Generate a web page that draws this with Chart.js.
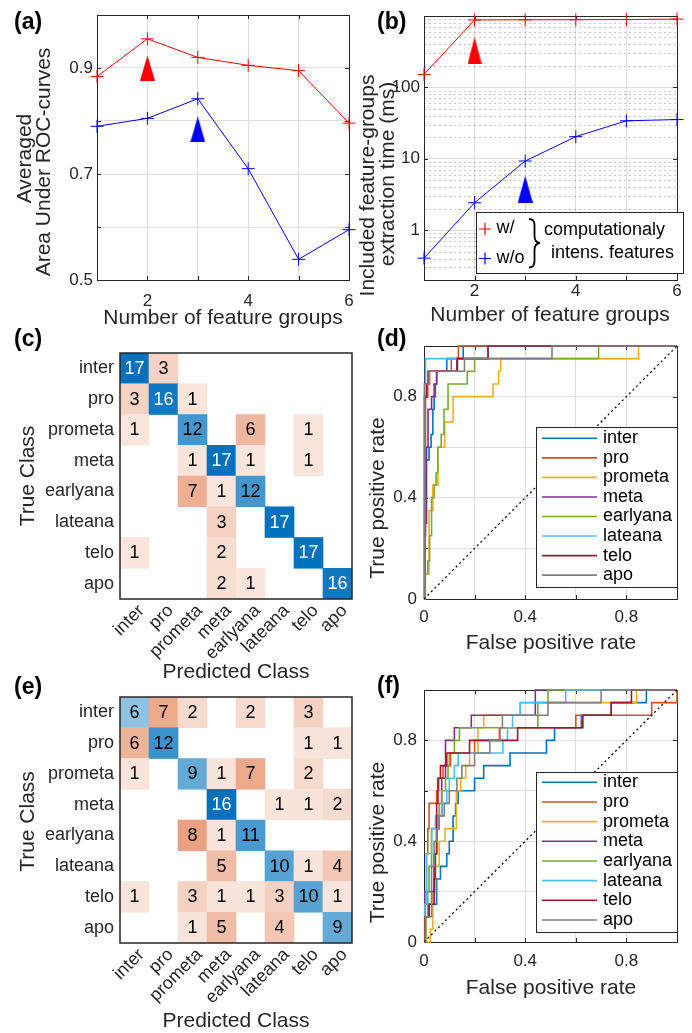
<!DOCTYPE html>
<html>
<head>
<meta charset="utf-8">
<script src="https://cdn.jsdelivr.net/npm/chart.js@4.4.0/dist/chart.umd.min.js"></script>
<style>
  html, body { margin: 0; padding: 0; background: #fff; }
  #wrap { position: relative; width: 692px; height: 1033px; }
  #wrap canvas { position: absolute; left: 0; top: 0; }
</style>
</head>
<body>
<div id="wrap">
  <canvas id="cA" width="692" height="1033"></canvas>
  <canvas id="cB" width="692" height="1033"></canvas>
  <canvas id="cC" width="692" height="1033"></canvas>
  <canvas id="cD" width="692" height="1033"></canvas>
  <canvas id="cE" width="692" height="1033"></canvas>
  <canvas id="cF" width="692" height="1033"></canvas>
</div>
<script>
const W = 692
const H = 1033
const FONT = '"Liberation Sans", Arial, sans-serif'
const INK = '#262626'
const GRID = '#dedede'

// (a) averaged AUC vs number of feature groups
const groups = [1, 2, 3, 4, 5, 6]
const aucWith = [0.884, 0.955, 0.92, 0.905, 0.895, 0.796]
const aucWithout = [0.79, 0.805, 0.842, 0.71, 0.539, 0.595]
const pickA = [[2, 0.9], [3, 0.784]]

// (b) extraction time in ms (log scale)
const timeWith = [152, 880, 885, 888, 892, 905]
const timeWithout = [0.405, 2.42, 9.3, 20.4, 34, 35.4]
const pickB = [[2, 330], [3, 3.75]]

// (c) / (e) confusion matrices, rows = true class, cols = predicted
const classes = ['inter', 'pro', 'prometa', 'meta', 'earlyana', 'lateana', 'telo', 'apo']
const confC = [
  [17, 3, 0, 0, 0, 0, 0, 0],
  [3, 16, 1, 0, 0, 0, 0, 0],
  [1, 0, 12, 0, 6, 0, 1, 0],
  [0, 0, 1, 17, 1, 0, 1, 0],
  [0, 0, 7, 1, 12, 0, 0, 0],
  [0, 0, 0, 3, 0, 17, 0, 0],
  [1, 0, 0, 2, 0, 0, 17, 0],
  [0, 0, 0, 2, 1, 0, 0, 16]
]
const confE = [
  [6, 7, 2, 0, 2, 0, 3, 0],
  [6, 12, 0, 0, 0, 0, 1, 1],
  [1, 0, 9, 1, 7, 0, 2, 0],
  [0, 0, 0, 16, 0, 1, 1, 2],
  [0, 0, 8, 1, 11, 0, 0, 0],
  [0, 0, 0, 5, 0, 10, 1, 4],
  [1, 0, 3, 1, 1, 3, 10, 1],
  [0, 0, 1, 5, 0, 4, 0, 9]
]
const classColors = ['#0072BD', '#D95319', '#EDB120', '#7E2F8E', '#77AC30', '#4DBEEE', '#A2142F', '#808080']

// (d) ROC curves, [fpr, tpr] where tpr steps up
const dInter = [[0, 0], [0.004, 0.55], [0.02, 0.6], [0.028, 0.65], [0.035, 0.75], [0.04, 0.8], [0.045, 0.85], [0.05, 0.9], [0.09, 0.95], [0.155, 1], [1, 1]]
const dPro = [[0, 0], [0.003, 0.5], [0.006, 0.8], [0.015, 0.85], [0.022, 0.9], [0.108, 0.95], [0.136, 1], [1, 1]]
const dPrometa = [[0, 0], [0.005, 0.1], [0.02, 0.35], [0.035, 0.45], [0.055, 0.6], [0.082, 0.7], [0.115, 0.8], [0.273, 0.85], [0.295, 0.9], [0.303, 0.95], [0.848, 1], [1, 1]]
const dMeta = [[0, 0], [0.003, 0.25], [0.006, 0.3], [0.01, 0.6], [0.016, 0.75], [0.03, 0.8], [0.04, 0.85], [0.05, 0.9], [0.13, 0.95], [0.253, 1], [1, 1]]
const dEarlyana = [[0, 0], [0.005, 0.1], [0.015, 0.15], [0.022, 0.25], [0.03, 0.4], [0.04, 0.45], [0.048, 0.5], [0.055, 0.6], [0.068, 0.65], [0.079, 0.75], [0.095, 0.85], [0.171, 0.9], [0.2, 0.95], [0.69, 1], [1, 1]]
const dLateana = [[0, 0], [0.002, 0.85], [0.006, 0.95], [0.253, 1], [1, 1]]
const dTelo = [[0, 0], [0.002, 0.8], [0.01, 0.85], [0.016, 0.9], [0.132, 0.95], [0.253, 1], [1, 1]]
const dApo = [[0, 0], [0.002, 0.85], [0.02, 0.9], [0.16, 0.95], [0.506, 1], [1, 1]]

// (f) ROC curves
const fInter = [[0, 0], [0.005, 0.1], [0.02, 0.15], [0.05, 0.25], [0.065, 0.3], [0.09, 0.35], [0.1, 0.4], [0.115, 0.5], [0.125, 0.55], [0.135, 0.6], [0.2, 0.65], [0.236, 0.7], [0.34, 0.75], [0.484, 0.8], [0.516, 0.85], [0.622, 0.9], [0.74, 0.95], [0.879, 1], [1, 1]]
const fPro = [[0, 0], [0.005, 0.15], [0.01, 0.35], [0.015, 0.45], [0.02, 0.55], [0.05, 0.6], [0.058, 0.65], [0.075, 0.7], [0.105, 0.75], [0.2, 0.8], [0.298, 0.85], [0.6, 0.9], [0.9, 0.95], [1, 1]]
const fPrometa = [[0, 0], [0.025, 0.05], [0.035, 0.2], [0.045, 0.3], [0.06, 0.4], [0.083, 0.45], [0.128, 0.6], [0.145, 0.65], [0.165, 0.7], [0.18, 0.75], [0.213, 0.85], [0.236, 0.9], [0.38, 0.95], [0.84, 1], [1, 1]]
const fMeta = [[0, 0], [0.003, 0.2], [0.04, 0.25], [0.045, 0.35], [0.05, 0.45], [0.06, 0.5], [0.07, 0.65], [0.085, 0.8], [0.12, 0.85], [0.187, 0.9], [0.44, 1], [1, 1]]
const fEarlyana = [[0, 0], [0.008, 0.1], [0.015, 0.2], [0.02, 0.3], [0.03, 0.45], [0.05, 0.5], [0.06, 0.55], [0.07, 0.6], [0.085, 0.65], [0.095, 0.7], [0.1, 0.75], [0.12, 0.8], [0.14, 0.85], [0.45, 0.95], [0.49, 1], [1, 1]]
const fLateana = [[0, 0], [0.003, 0.15], [0.01, 0.35], [0.03, 0.45], [0.045, 0.5], [0.07, 0.55], [0.09, 0.6], [0.1, 0.65], [0.12, 0.7], [0.135, 0.75], [0.312, 0.8], [0.33, 0.85], [0.35, 0.9], [0.38, 0.95], [0.56, 1], [1, 1]]
const fTelo = [[0, 0], [0.003, 0.1], [0.02, 0.15], [0.04, 0.35], [0.05, 0.55], [0.055, 0.65], [0.065, 0.7], [0.09, 0.75], [0.18, 0.8], [0.37, 0.85], [0.628, 0.9], [0.74, 0.95], [0.82, 1], [1, 1]]
const fApo = [[0, 0], [0.005, 0.1], [0.03, 0.3], [0.04, 0.4], [0.05, 0.45], [0.06, 0.5], [0.08, 0.55], [0.1, 0.6], [0.13, 0.65], [0.15, 0.7], [0.2, 0.75], [0.26, 0.8], [0.3, 0.85], [0.31, 0.9], [0.49, 0.95], [0.7, 1], [1, 1]]

const rocD = [dInter, dPro, dPrometa, dMeta, dEarlyana, dLateana, dTelo, dApo]
const rocF = [fInter, fPro, fPrometa, fMeta, fEarlyana, fLateana, fTelo, fApo]

// ---------- helpers ----------
function pad (area, yW, xH) {
  return { left: area[0] - yW, top: area[1], right: W - area[2], bottom: H - area[3] - xH }
}

function txt (ctx, s, x, y, o = {}) {
  ctx.save()
  ctx.font = (o.bold ? 'bold ' : '') + (o.size || 21) + 'px ' + FONT
  ctx.fillStyle = o.color || INK
  ctx.textAlign = o.align || 'center'
  ctx.textBaseline = 'middle'
  ctx.translate(x, y)
  if (o.rot) ctx.rotate(o.rot)
  ctx.fillText(s, 0, 0)
  ctx.restore()
}

function tri (color, w, h) {
  const c = document.createElement('canvas')
  c.width = w
  c.height = h
  const g = c.getContext('2d')
  g.fillStyle = color
  g.beginPath()
  g.moveTo(w / 2, 0)
  g.lineTo(w, h)
  g.lineTo(0, h)
  g.closePath()
  g.fill()
  return c
}

const isPow10 = v => [0.1, 1, 10, 100, 1000].some(p => Math.abs(v - p) < 1e-9)

// axes box with small inward ticks, drawn under the data
function frame (inner) {
  return {
    id: 'frame',
    beforeDatasetsDraw (chart) {
      const { ctx, chartArea: a, scales } = chart
      ctx.save()
      ctx.strokeStyle = INK
      ctx.lineWidth = 1
      ctx.strokeRect(Math.round(a.left) + 0.5, Math.round(a.top) + 0.5, Math.round(a.right - a.left), Math.round(a.bottom - a.top))
      if (inner) {
        ctx.beginPath()
        scales.x.ticks.forEach(t => {
          const px = Math.round(scales.x.getPixelForValue(t.value)) + 0.5
          ctx.moveTo(px, a.bottom); ctx.lineTo(px, a.bottom - 4)
          ctx.moveTo(px, a.top); ctx.lineTo(px, a.top + 4)
        })
        scales.y.ticks.forEach(t => {
          if (scales.y.type === 'logarithmic' && !isPow10(t.value)) return
          const py = Math.round(scales.y.getPixelForValue(t.value)) + 0.5
          ctx.moveTo(a.left, py); ctx.lineTo(a.left + 4, py)
          ctx.moveTo(a.right, py); ctx.lineTo(a.right - 4, py)
        })
        ctx.stroke()
      }
      ctx.restore()
    }
  }
}

function labels (items) {
  return {
    id: 'labels',
    afterDraw (chart) {
      items.forEach(it => txt(chart.ctx, it[0], it[1], it[2], it[3]))
    }
  }
}

function rocLegend (box, y0, dy) {
  return {
    id: 'rocLegend',
    afterDatasetsDraw (chart) {
      const ctx = chart.ctx
      ctx.save()
      ctx.fillStyle = '#fff'
      ctx.fillRect(box[0], box[1], box[2], box[3])
      ctx.strokeStyle = INK
      ctx.lineWidth = 1
      ctx.strokeRect(box[0] + 0.5, box[1] + 0.5, box[2], box[3])
      classes.forEach((c, i) => {
        const y = y0 + dy * i
        ctx.strokeStyle = classColors[i]
        ctx.lineWidth = 1.6
        ctx.beginPath()
        ctx.moveTo(box[0] + 6, y)
        ctx.lineTo(box[0] + 61, y)
        ctx.stroke()
        txt(ctx, c, box[0] + 67, y, { size: 18, align: 'left', color: '#000' })
      })
      ctx.restore()
    }
  }
}

const tickFont = { family: FONT, size: 17 }
const base = (padding, plugins) => ({
  responsive: false,
  animation: false,
  events: [],
  layout: { padding },
  plugins: Object.assign({ legend: { display: false }, tooltip: { enabled: false } }, plugins || {})
})

// ---------- (a) ----------
const areaA = [97, 15, 349, 280]
new Chart(document.getElementById('cA'), {
  type: 'line',
  data: {
    datasets: [
      { data: groups.map((g, i) => ({ x: g, y: aucWith[i] })), borderColor: '#ff0000', pointBorderColor: '#ff0000', borderWidth: 1, pointStyle: 'cross', pointRadius: 6.5, pointBorderWidth: 1, clip: false },
      { data: groups.map((g, i) => ({ x: g, y: aucWithout[i] })), borderColor: '#0000ff', pointBorderColor: '#0000ff', borderWidth: 1, pointStyle: 'cross', pointRadius: 6.5, pointBorderWidth: 1, clip: false },
      { data: [{ x: pickA[0][0], y: pickA[0][1] }], showLine: false, pointStyle: tri('#ff0000', 15, 25), pointRadius: 8 },
      { data: [{ x: pickA[1][0], y: pickA[1][1] }], showLine: false, pointStyle: tri('#0000ff', 15, 26), pointRadius: 8 }
    ]
  },
  options: Object.assign(base(pad(areaA, 60, 40)), {
    scales: {
      x: {
        type: 'linear', min: 1, max: 6,
        afterFit: s => { s.height = 40 },
        grid: { color: GRID, drawTicks: false },
        border: { display: false },
        ticks: { stepSize: 1, autoSkip: false, padding: 11.5, font: tickFont, color: INK, maxRotation: 0, callback: v => (v % 2 === 0 ? String(v) : '') }
      },
      y: {
        min: 0.5, max: 1,
        afterFit: s => { s.width = 60 },
        grid: { color: GRID, drawTicks: false },
        border: { display: false },
        ticks: { stepSize: 0.1, autoSkip: false, padding: 4, font: tickFont, color: INK, callback: v => (Math.round(v * 10) % 2 === 1 ? v.toFixed(1) : '') }
      }
    }
  }),
  plugins: [frame(true), labels([
    ['(a)', 14, 23, { bold: true, size: 23, align: 'left', color: '#000' }],
    ['Number of feature groups', 223, 318.5],
    ['Averaged', 25, 158.5, { rot: -Math.PI / 2 }],
    ['Area Under ROC-curves', 44, 162, { rot: -Math.PI / 2 }]
  ])]
})

// ---------- (b) ----------
const areaB = [424, 16, 677, 280]
const legendB = {
  id: 'legendB',
  afterDatasetsDraw (chart) {
    const ctx = chart.ctx
    ctx.save()
    ctx.fillStyle = '#fff'
    ctx.fillRect(476, 212, 207, 61)
    ctx.strokeStyle = INK
    ctx.lineWidth = 1
    ctx.strokeRect(476.5, 212.5, 207, 61)
    ctx.lineWidth = 1.2
    const plus = (x, y, c) => {
      ctx.strokeStyle = c
      ctx.beginPath()
      ctx.moveTo(x - 6, y); ctx.lineTo(x + 6, y)
      ctx.moveTo(x, y - 6); ctx.lineTo(x, y + 6)
      ctx.stroke()
    }
    plus(485, 229, '#ff0000')
    plus(485, 258.5, '#0000ff')
    txt(ctx, 'w/', 496.5, 228, { size: 18, align: 'left', color: '#000' })
    txt(ctx, 'w/o', 496.5, 258, { size: 18, align: 'left', color: '#000' })
    // curly brace
    ctx.strokeStyle = '#000'
    ctx.lineWidth = 1.8
    ctx.beginPath()
    ctx.moveTo(529, 219)
    ctx.quadraticCurveTo(534.5, 219, 534.5, 225)
    ctx.lineTo(534.5, 236)
    ctx.quadraticCurveTo(534.5, 242.5, 540, 243)
    ctx.quadraticCurveTo(534.5, 243.5, 534.5, 250)
    ctx.lineTo(534.5, 261)
    ctx.quadraticCurveTo(534.5, 267.5, 529, 267.5)
    ctx.stroke()
    txt(ctx, 'computationaly', 544, 230.5, { size: 18, align: 'left', color: '#000' })
    txt(ctx, 'intens. features', 551, 253.5, { size: 18, align: 'left', color: '#000' })
    ctx.restore()
  }
}
const minorGrid = {
  id: 'minorGrid',
  beforeDatasetsDraw (chart) {
    const { ctx, chartArea: a, scales } = chart
    ctx.save()
    ctx.strokeStyle = 'rgba(0,0,0,0.22)'
    ctx.lineWidth = 1
    ctx.setLineDash([2, 3])
    ctx.beginPath()
    scales.y.ticks.forEach(t => {
      if (isPow10(t.value)) return
      const py = Math.round(scales.y.getPixelForValue(t.value)) + 0.5
      ctx.moveTo(a.left, py)
      ctx.lineTo(a.right, py)
    })
    ctx.stroke()
    ctx.restore()
  }
}
new Chart(document.getElementById('cB'), {
  type: 'line',
  data: {
    datasets: [
      { data: groups.map((g, i) => ({ x: g, y: timeWith[i] })), borderColor: '#ff0000', pointBorderColor: '#ff0000', borderWidth: 1, pointStyle: 'cross', pointRadius: 6.5, pointBorderWidth: 1, clip: false },
      { data: groups.map((g, i) => ({ x: g, y: timeWithout[i] })), borderColor: '#0000ff', pointBorderColor: '#0000ff', borderWidth: 1, pointStyle: 'cross', pointRadius: 6.5, pointBorderWidth: 1, clip: false },
      { data: [{ x: pickB[0][0], y: pickB[0][1] }], showLine: false, pointStyle: tri('#ff0000', 14, 27), pointRadius: 8 },
      { data: [{ x: pickB[1][0], y: pickB[1][1] }], showLine: false, pointStyle: tri('#0000ff', 15, 27), pointRadius: 8 }
    ]
  },
  options: Object.assign(base(pad(areaB, 60, 40)), {
    scales: {
      x: {
        type: 'linear', min: 1, max: 6,
        afterFit: s => { s.height = 40 },
        grid: { color: GRID, drawTicks: false },
        border: { display: false },
        ticks: { stepSize: 1, autoSkip: false, padding: 1.5, font: tickFont, color: INK, maxRotation: 0, callback: v => (v % 2 === 0 ? String(v) : '') }
      },
      y: {
        type: 'logarithmic', min: 0.2, max: 1000,
        afterFit: s => { s.width = 60 },
        afterBuildTicks: s => {
          const t = []
          for (let e = -1; e <= 2; e++) {
            for (let m = 1; m <= 9; m++) {
              const v = Math.round(m * Math.pow(10, e) * 10) / 10
              if (v >= 0.2) t.push({ value: v, major: m === 1 })
            }
          }
          t.push({ value: 1000, major: true })
          s.ticks = t
        },
        grid: { color: c => (c.tick && isPow10(c.tick.value) ? GRID : 'rgba(0,0,0,0)'), drawTicks: false },
        border: { display: false },
        ticks: { autoSkip: false, padding: 4, font: tickFont, color: INK, callback: v => ([1, 10, 100].includes(v) ? String(v) : '') }
      }
    }
  }),
  plugins: [minorGrid, frame(true), legendB, labels([
    ['(b)', 377, 22.5, { bold: true, size: 23, align: 'left', color: '#000' }],
    ['Number of feature groups', 550, 315],
    ['Included feature-groups', 368.5, 185.5, { rot: -Math.PI / 2 }],
    ['extraction time (ms)', 388, 174, { rot: -Math.PI / 2 }]
  ])]
})

// ---------- (c) and (e): confusion matrices ----------
function cells (m) {
  const out = []
  m.forEach((row, r) => row.forEach((v, c) => {
    if (v > 0) out.push({ x: classes[c], y: [r - 0.5, r + 0.5], v, d: r === c })
  }))
  return out
}
function cellColor (p, max) {
  const a = 0.1 + 0.9 * p.v / max
  const rgb = p.d ? [0, 114, 189] : [217, 83, 25]
  return 'rgb(' + rgb.map(c => Math.round(255 + (c - 255) * a)).join(',') + ')'
}
const confDeco = {
  id: 'confDeco',
  afterDatasetsDraw (chart) {
    const { ctx, chartArea: a, scales } = chart
    const ds = chart.data.datasets[0]
    const max = Math.max(...ds.data.map(p => p.v))
    chart.getDatasetMeta(0).data.forEach((el, i) => {
      const p = ds.data[i]
      const { x, y, base } = el.getProps(['x', 'y', 'base'], true)
      txt(ctx, String(p.v), x, (y + base) / 2 + 0.5, { size: 18, color: p.v / max > 0.8 ? '#fff' : '#000' })
    })
    ctx.save()
    ctx.strokeStyle = INK
    ctx.lineWidth = 1.5
    ctx.strokeRect(a.left, a.top, a.right - a.left, a.bottom - a.top)
    ctx.restore()
    classes.forEach((c, i) => {
      txt(ctx, c, scales.x.getPixelForValue(i) + 7, a.bottom + 9, { size: 18, align: 'right', rot: -Math.PI / 4 })
    })
  }
}
function confChart (id, m, area, tag, titleY, predY, trueY) {
  return new Chart(document.getElementById(id), {
    type: 'bar',
    data: {
      labels: classes,
      datasets: [{
        data: cells(m),
        backgroundColor: c => cellColor(c.raw, Math.max(...m.flat())),
        borderWidth: 0,
        barPercentage: 1,
        categoryPercentage: 1
      }]
    },
    options: Object.assign(base(pad(area, 110, 40)), {
      scales: {
        x: {
          type: 'category', offset: true,
          afterFit: s => { s.height = 40 },
          grid: { display: false, drawTicks: false },
          border: { display: false },
          ticks: { display: false }
        },
        y: {
          type: 'linear', min: -0.5, max: 7.5, reverse: true,
          afterFit: s => { s.width = 110 },
          afterBuildTicks: s => { s.ticks = classes.map((c, i) => ({ value: i })) },
          grid: { display: false, drawTicks: false },
          border: { display: false },
          ticks: { autoSkip: false, padding: 6, font: { family: FONT, size: 18 }, color: INK, callback: v => classes[v] }
        }
      }
    }),
    plugins: [confDeco, labels([
      [tag, 14, titleY, { bold: true, size: 23, align: 'left', color: '#000' }],
      ['True Class', 28.5, trueY, { rot: -Math.PI / 2 }],
      ['Predicted Class', 236, predY]
    ])]
  })
}
confChart('cC', confC, [120, 353, 352, 599], '(c)', 340, 672.5, 476)
confChart('cE', confE, [120, 697, 352, 943], '(e)', 688, 1021.5, 821.5)

// ---------- (d) and (f): ROC curves ----------
const rateTick = v => (Math.round(v * 10) % 4 === 0 ? (v === 0 ? '0' : v.toFixed(1)) : '')
function rocChart (id, curves, area, tag, tagY, xTitleY, yTitleY, legBox, legY0, legDy, xPad) {
  const sets = curves.map((pts, i) => ({
    data: pts.map(p => ({ x: p[0], y: p[1] })),
    borderColor: classColors[i],
    borderWidth: 1.6,
    stepped: 'before',
    pointRadius: 0,
    clip: false,
    order: 10 - i
  }))
  sets.push({ data: [{ x: 0, y: 0 }, { x: 1, y: 1 }], borderColor: '#000', borderWidth: 1.3, borderDash: [2, 3], pointRadius: 0, order: 0 })
  return new Chart(document.getElementById(id), {
    type: 'line',
    data: { datasets: sets },
    options: Object.assign(base(pad(area, 60, 40)), {
      scales: {
        x: {
          type: 'linear', min: 0, max: 1,
          afterFit: s => { s.height = 40 },
          grid: { color: GRID, drawTicks: false },
          border: { display: false },
          ticks: { stepSize: 0.2, autoSkip: false, padding: xPad, font: tickFont, color: INK, maxRotation: 0, callback: rateTick }
        },
        y: {
          min: 0, max: 1,
          afterFit: s => { s.width = 60 },
          grid: { color: GRID, drawTicks: false },
          border: { display: false },
          ticks: { stepSize: 0.2, autoSkip: false, padding: 7, font: tickFont, color: INK, callback: rateTick }
        }
      }
    }),
    plugins: [frame(true), rocLegend(legBox, legY0, legDy), labels([
      [tag, 377, tagY, { bold: true, size: 23, align: 'left', color: '#000' }],
      ['False positive rate', 551, xTitleY],
      ['True positive rate', 378.5, yTitleY, { rot: -Math.PI / 2 }]
    ])]
  })
}
rocChart('cD', rocD, [424, 346, 677, 599], '(d)', 340, 643.5, 498, [536, 427, 141, 160], 438.3, 19.55, 8)
rocChart('cF', rocF, [424, 690, 677, 942], '(f)', 687, 988.5, 842.5, [536, 772, 141, 160], 782.3, 19.67, 9)
</script>
</body>
</html>
